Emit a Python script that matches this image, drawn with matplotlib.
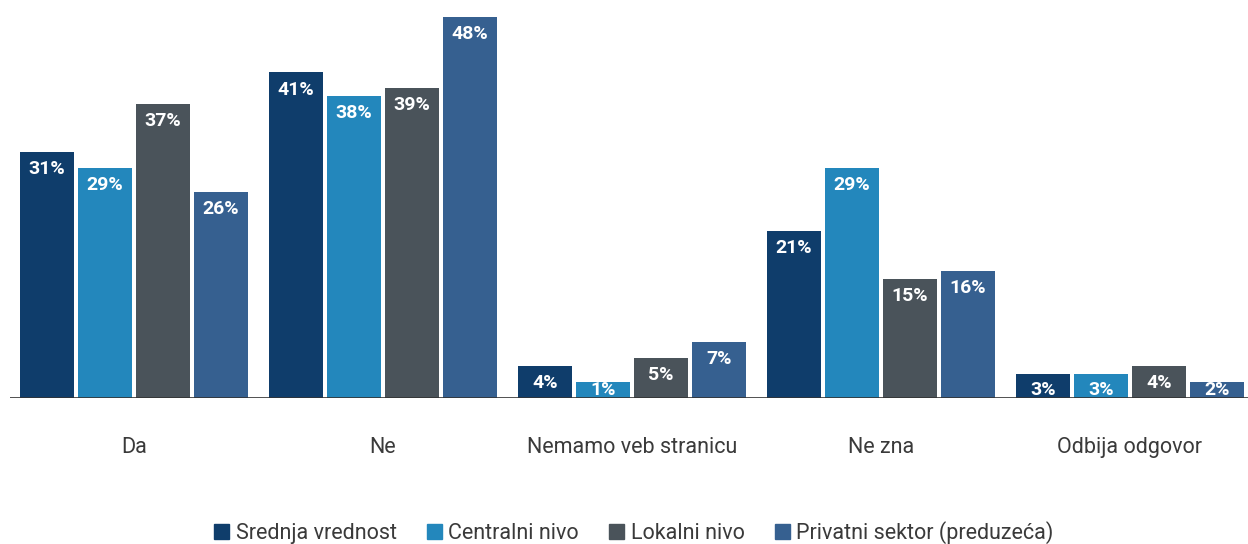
import matplotlib
matplotlib.use("Agg")
import matplotlib.pyplot as plt
from matplotlib.patches import Patch
import numpy as np

categories = ["Da", "Ne", "Nemamo veb stranicu", "Ne zna", "Odbija odgovor"]
series_names = ["Srednja vrednost", "Centralni nivo", "Lokalni nivo", "Privatni sektor (preduzeća)"]
srednja = [31, 41, 4, 21, 3]
centralni = [29, 38, 1, 29, 3]
lokalni = [37, 39, 5, 15, 4]
privatni = [26, 48, 7, 16, 2]
colors = ["#0f3d6b", "#2387bc", "#4a535a", "#366090"]
min_bar = 2.0  # very small bars are drawn with a minimum visible height

plt.rcParams['font.family'] = ['Roboto', 'DejaVu Sans']

fig = plt.figure(figsize=(12.48, 5.44), dpi=100)
ax = fig.add_axes([10/1248, 146/544, 1238/1248, 397/544])

x = np.arange(len(categories))
step = 58/249
width = 54/249
for i, (vals, c) in enumerate(zip([srednja, centralni, lokalni, privatni], colors)):
    pos = x + (i - 1.5) * step
    heights = [max(v, min_bar) for v in vals]
    ax.bar(pos, heights, width=width, color=c, zorder=2)
    for p, h, v in zip(pos, heights, vals):
        y = max(h - 2.15, 1.0)
        ax.text(p, y, f"{v}%", ha="center", va="center", color="white",
                fontsize=14, fontweight="bold", zorder=3)

ax.set_xlim(-0.498, 4.474)
ax.set_ylim(0, 50)
ax.axhline(0, color="#333333", lw=1.2, zorder=4)
for s in ax.spines.values():
    s.set_visible(False)
ax.set_yticks([])
ax.set_xticks(x)
ax.set_xticklabels(categories, fontsize=15.5, color="#3a3a3a")
ax.tick_params(axis="x", length=0, pad=28)

handles = [Patch(color=c, label=n) for c, n in zip(colors, series_names)]
fig.legend(handles=handles, loc="center", bbox_to_anchor=(634/1248, 11/544), ncol=4,
           frameon=False, handlelength=0.7, handleheight=0.7,
           handletextpad=0.3, columnspacing=1.4, labelcolor="#3a3a3a",
           prop={'size': 15.5})

fig.savefig("out.png", dpi=100)
